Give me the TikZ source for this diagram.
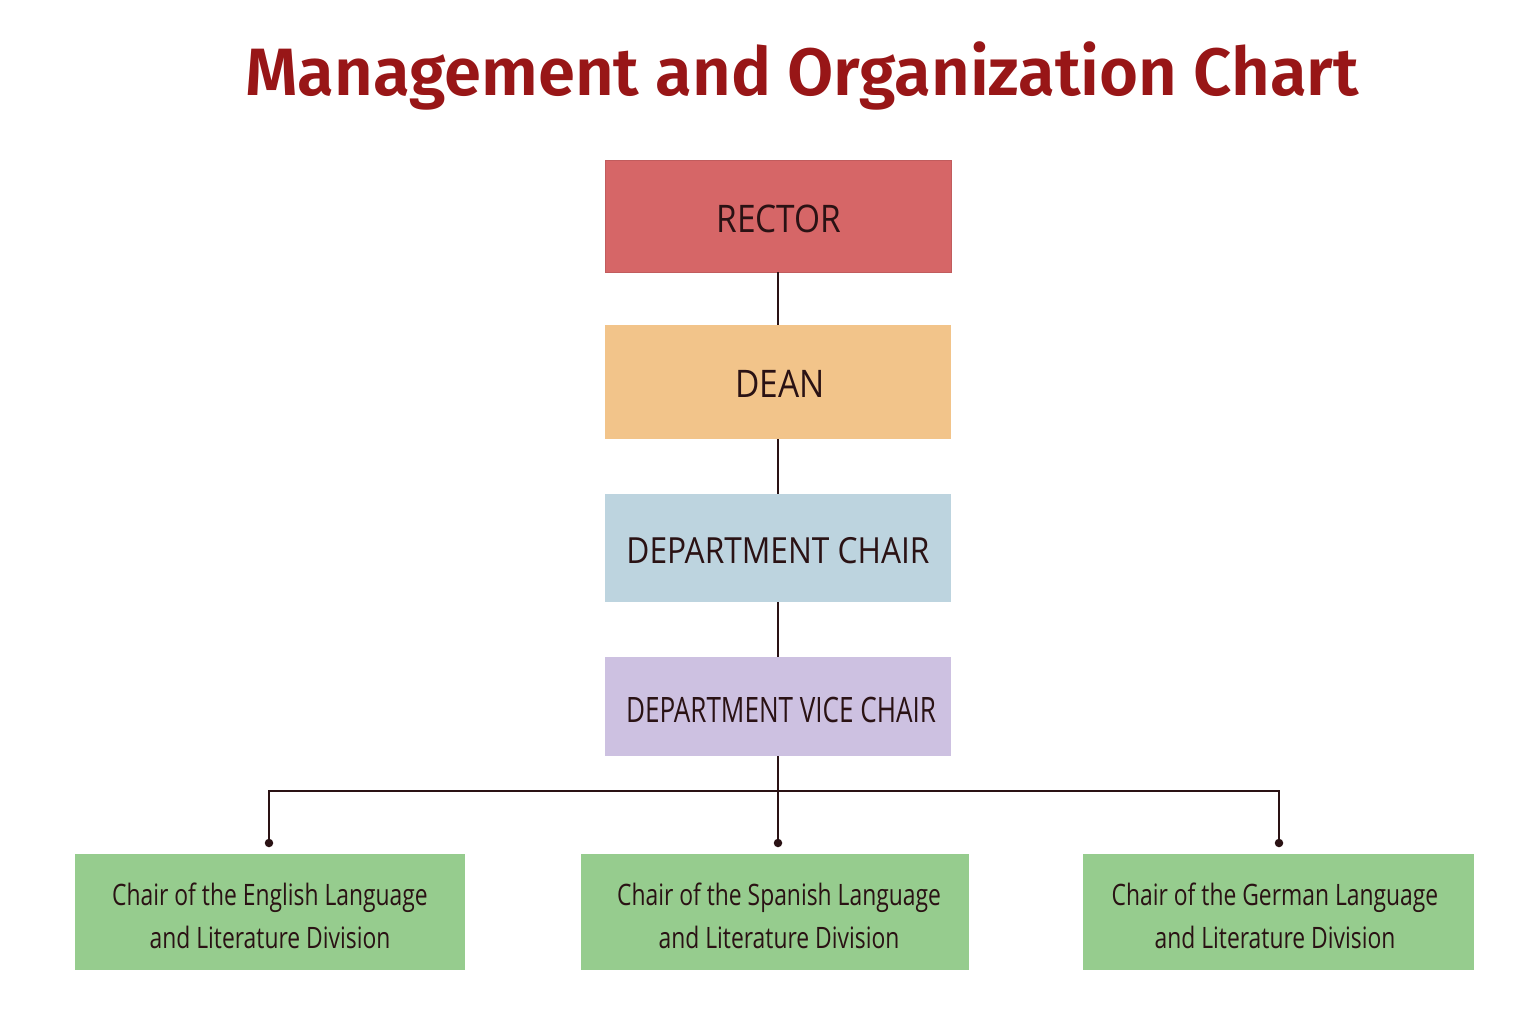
\documentclass[tikz,border=0pt]{standalone}
\usepackage{fontspec}
\setmainfont{Open Sans}[FakeStretch=0.88]
\newfontfamily\vicefont{Open Sans}[FakeStretch=0.745]
\newfontfamily\greenfont{Open Sans}[FakeStretch=0.775]
\newfontfamily\titlefont{Fira Sans}[BoldFont={Fira Sans SemiBold}]
\definecolor{titlered}{HTML}{981617}
\definecolor{cred}{HTML}{D66667}
\definecolor{corange}{HTML}{F2C48A}
\definecolor{cblue}{HTML}{BDD4DF}
\definecolor{cpurple}{HTML}{CDC1E1}
\definecolor{cgreen}{HTML}{96CC8E}
\definecolor{ink}{HTML}{2A1214}
\begin{document}
\begin{tikzpicture}[x=1pt,y=-1pt,
  box/.style={inner sep=0pt,outer sep=0pt},
  txt/.style={inner sep=0pt,text=ink,align=center},
  link/.style={draw=ink,line width=1.8pt},
  tip/.style={circle,fill=ink,inner sep=0pt,minimum size=8.5pt}]
\useasboundingbox[fill=white] (0,0) rectangle (1540,1021);
\node[font=\titlefont\bfseries\fontsize{67}{70}\selectfont,text=titlered] (title) at (802,76) {Management and Organization Chart};
\node[box,fill=cred,draw=cred!90!black,minimum width=346pt,minimum height=112pt] (rector) at (778,216) {};
\node[box,fill=corange,minimum width=346pt,minimum height=114pt] (dean) at (778,382) {};
\node[box,fill=cblue,minimum width=346pt,minimum height=108pt] (chair) at (778,548) {};
\node[box,fill=cpurple,minimum width=346pt,minimum height=99pt] (vice) at (778,706.5) {};
\node[box,fill=cgreen,minimum width=390pt,minimum height=116pt] (eng) at (270,912) {};
\node[box,fill=cgreen,minimum width=388pt,minimum height=116pt] (spa) at (775,912) {};
\node[box,fill=cgreen,minimum width=391pt,minimum height=116pt] (ger) at (1278.5,912) {};
\node[txt,font=\fontsize{38}{40}\selectfont] (trector) at (779,219) {RECTOR};
\node[txt,font=\fontsize{38}{40}\selectfont] (tdean) at (780,384) {DEAN};
\node[txt,font=\fontsize{36}{40}\selectfont] (tchair) at (778,551) {DEPARTMENT CHAIR};
\node[txt,font=\vicefont\fontsize{35}{40}\selectfont] (tvice) at (781,710) {DEPARTMENT VICE CHAIR};
\node[txt,font=\greenfont\fontsize{29.5}{43}\selectfont] (teng) at (270,916) {Chair of the English Language\\and Literature Division};
\node[txt,font=\greenfont\fontsize{29.5}{43}\selectfont] (tspa) at (779,916) {Chair of the Spanish Language\\and Literature Division};
\node[txt,font=\greenfont\fontsize{29.5}{43}\selectfont] (tger) at (1275,916) {Chair of the German Language\\and Literature Division};
\draw[link] (rector.south) -- (dean.north);
\draw[link] (dean.south) -- (chair.north);
\draw[link] (chair.south) -- (vice.north);
\coordinate (bus) at (778,791);
\node[tip] (d1) at (269,843) {};
\node[tip] (d2) at (778,843) {};
\node[tip] (d3) at (1279,843) {};
\draw[link] (vice.south) -- (d2.center);
\draw[link] (d1.center) |- (bus) -| (d3.center);
\end{tikzpicture}
\end{document}
